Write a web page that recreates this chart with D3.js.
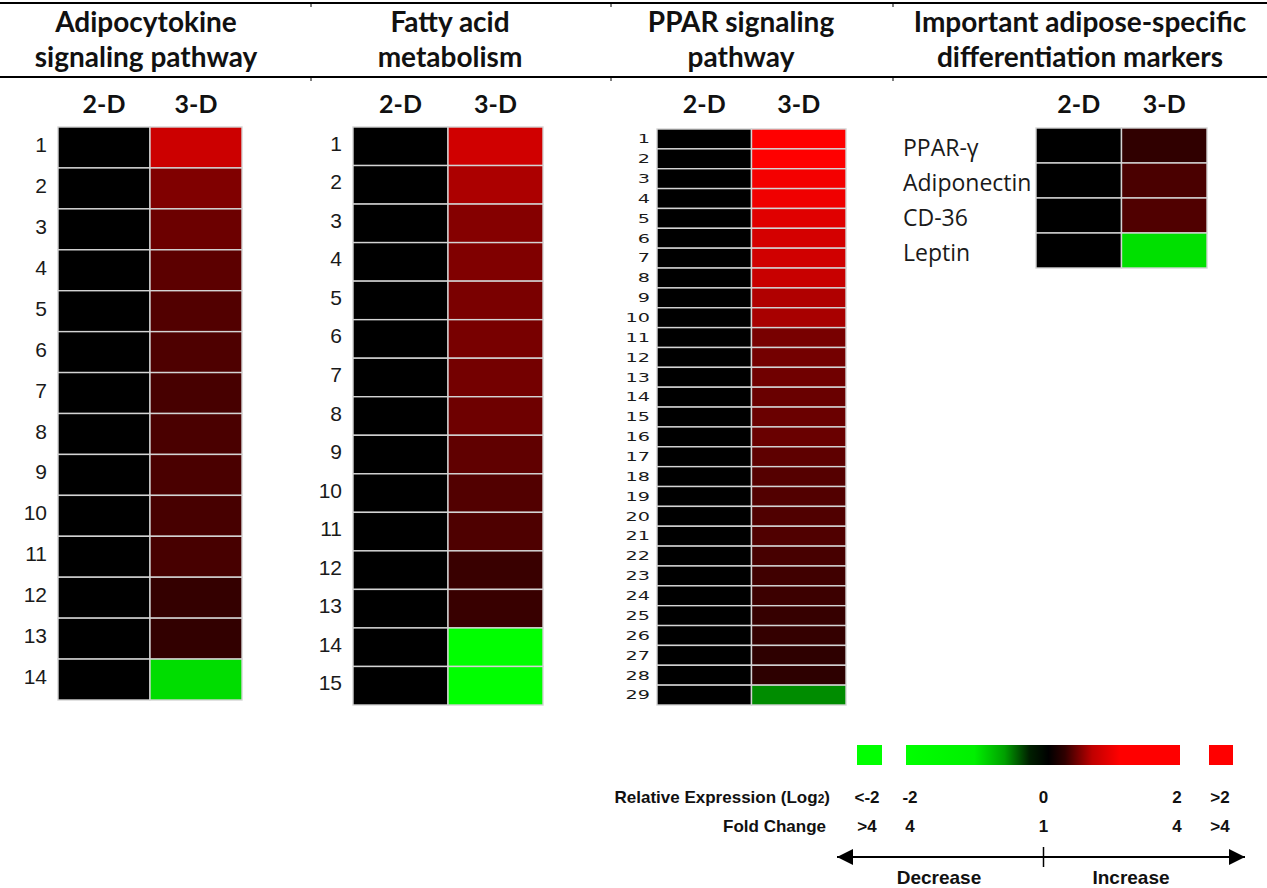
<!DOCTYPE html>
<html>
<head>
<meta charset="utf-8">
<script src="https://cdn.jsdelivr.net/npm/d3@7"></script>
<style>
  body { margin: 0; background: #fff; }
  svg { display: block; }
</style>
</head>
<body>
<svg id="chart" width="1267" height="888"></svg>
<script>
/* DATA: LOG2 RELATIVE EXPRESSION, 3-D VS 2-D (2-D IS THE REFERENCE = 0) */
var adipoLabels = ["1","2","3","4","5","6","7","8","9","10","11","12","13","14"];
var adipo2D = [0,0,0,0,0,0,0,0,0,0,0,0,0,0];
var adipo3D = [1.6,1.0,0.85,0.72,0.64,0.61,0.56,0.58,0.58,0.56,0.56,0.41,0.39,-1.73];

var fattyLabels = ["1","2","3","4","5","6","7","8","9","10","11","12","13","14","15"];
var fatty2D = [0,0,0,0,0,0,0,0,0,0,0,0,0,0,0];
var fatty3D = [1.63,1.35,1.04,1.0,0.96,0.94,0.91,0.86,0.75,0.64,0.61,0.45,0.44,-2,-2];

var pparLabels = ["1","2","3","4","5","6","7","8","9","10","11","12","13","14","15",
                  "16","17","18","19","20","21","22","23","24","25","26","27","28","29"];
var ppar2D = [0,0,0,0,0,0,0,0,0,0,0,0,0,0,0,0,0,0,0,0,0,0,0,0,0,0,0,0,0];
var ppar3D = [2.0,2.0,1.91,1.88,1.76,1.66,1.63,1.57,1.38,1.32,0.94,0.91,0.88,0.82,0.83,
              0.82,0.74,0.67,0.64,0.63,0.63,0.56,0.5,0.47,0.42,0.41,0.36,0.35,-1.1];

var markerLabels = ["PPAR-\u03b3","Adiponectin","CD-36","Leptin"];
var marker2D = [0,0,0,0];
var marker3D = [0.38,0.58,0.63,-1.76];

var conditions = ["2-D","3-D"];
var legendTicks = [-2, 0, 2];
var legendLog = ["-2","0","2"];
var legendFold = ["4","1","4"];

/* COLOUR SCALE: GREEN (-2) -> BLACK (0) -> RED (+2) */
var color = d3.scaleLinear()
    .domain([-2, 0, 2])
    .range(["#00ff00", "#000000", "#ff0000"])
    .clamp(true);

var svg = d3.select("#chart");

/* HEADER RULES */
svg.append("line").attr("x1", 0).attr("x2", 1267).attr("y1", 3).attr("y2", 3)
   .attr("stroke", "#000").attr("stroke-width", 2);
svg.append("line").attr("x1", 0).attr("x2", 1267).attr("y1", 77).attr("y2", 77)
   .attr("stroke", "#000").attr("stroke-width", 2);
[311, 611, 893].forEach(function(x) {
  svg.append("line").attr("x1", x).attr("x2", x).attr("y1", 3).attr("y2", 7).attr("stroke", "#000");
  svg.append("line").attr("x1", x).attr("x2", x).attr("y1", 77).attr("y2", 81).attr("stroke", "#000");
});

/* PANELS */
var panels = [
  { title: ["Adipocytokine", "signaling pathway"], cx: 146, labels: adipoLabels, v2: adipo2D, v3: adipo3D,
    x0: 58, x1: 242, top: 127, bottom: 700, labelX: 47, font: "Liberation Sans", size: 21, labelAnchor: "end", sx: 1, dy: -3 },
  { title: ["Fatty acid", "metabolism"], cx: 450, labels: fattyLabels, v2: fatty2D, v3: fatty3D,
    x0: 353, x1: 543, top: 127, bottom: 705, labelX: 342, font: "Liberation Sans", size: 21, labelAnchor: "end", sx: 1, dy: -3 },
  { title: ["PPAR signaling", "pathway"], cx: 741, labels: pparLabels, v2: ppar2D, v3: ppar3D,
    x0: 657, x1: 846, top: 129, bottom: 705, labelX: 650, font: "DejaVu Sans", size: 12, labelAnchor: "end", sx: 1.6, dy: 0 },
  { title: ["Important adipose-specific", "differentiation markers"], cx: 1080, labels: markerLabels, v2: marker2D, v3: marker3D,
    x0: 1036, x1: 1207, top: 128, bottom: 268, labelX: 903, font: "Open Sans", size: 23, labelAnchor: "start", sx: 1, dy: 2 }
];

panels.forEach(function(p) {
  var g = svg.append("g");

  /* TITLE */
  p.title.forEach(function(t, i) {
    g.append("text")
      .attr("x", p.cx).attr("y", 32 + i * 35)
      .attr("text-anchor", "middle")
      .attr("font-family", "Lato, 'Open Sans', sans-serif")
      .attr("font-weight", "bold")
      .attr("font-size", "28px")
      .attr("fill", "#111")
      .text(t);
  });

  var x = d3.scaleBand().domain(conditions).range([p.x0, p.x1]);
  var y = d3.scaleBand().domain(p.labels).range([p.top, p.bottom]);

  /* COLUMN HEADERS */
  g.selectAll(".colhead").data(conditions).enter().append("text")
    .attr("x", function(d) { return x(d) + x.bandwidth() / 2; })
    .attr("y", 113)
    .attr("text-anchor", "middle")
    .attr("font-family", "Lato, 'Open Sans', sans-serif")
    .attr("font-weight", "bold")
    .attr("font-size", "25px")
    .attr("fill", "#111")
    .text(function(d) { return d; });

  /* CELLS */
  var cells = [];
  p.labels.forEach(function(l, i) {
    cells.push({ row: l, col: "2-D", v: p.v2[i] });
    cells.push({ row: l, col: "3-D", v: p.v3[i] });
  });
  g.selectAll(".cell").data(cells).enter().append("rect")
    .attr("x", function(d) { return x(d.col); })
    .attr("y", function(d) { return y(d.row); })
    .attr("width", x.bandwidth())
    .attr("height", y.bandwidth())
    .attr("fill", function(d) { return color(d.v); })
    .attr("stroke", "#d4d4d4")
    .attr("stroke-width", 1.4);

  /* ROW LABELS */
  g.selectAll(".rowlab").data(p.labels).enter().append("text")
    .attr("transform", function(d) {
      return "translate(" + p.labelX + "," + (y(d) + y.bandwidth() / 2 + p.dy) + ") scale(" + p.sx + ",1)";
    })
    .attr("dy", "0.36em")
    .attr("text-anchor", p.labelAnchor)
    .attr("font-family", p.font)
    .attr("font-size", p.size + "px")
    .attr("fill", "#1a1a1a")
    .text(function(d) { return d; });
});

/* LEGEND */
var lx = d3.scaleLinear().domain([-2, 2]).range([910, 1177]);

var defs = svg.append("defs");
var grad = defs.append("linearGradient").attr("id", "lgGrad");
[[0, "#00ff00"], [0.25, "#00f000"], [0.36, "#00a000"], [0.45, "#002000"], [0.52, "#000000"],
 [0.58, "#300000"], [0.68, "#c00000"], [0.78, "#ff0000"], [1, "#ff0000"]].forEach(function(s) {
  grad.append("stop").attr("offset", s[0]).attr("stop-color", s[1]);
});

svg.append("rect").attr("x", 857).attr("y", 745).attr("width", 25).attr("height", 20).attr("fill", color(-3));
svg.append("rect").attr("x", 906).attr("y", 745).attr("width", 274).attr("height", 20).attr("fill", "url(#lgGrad)");
svg.append("rect").attr("x", 1209).attr("y", 745).attr("width", 24).attr("height", 20).attr("fill", color(3));

var lgFont = "'Liberation Sans', Arial, sans-serif";
function lgText(x, y, t, anchor) {
  return svg.append("text").attr("x", x).attr("y", y)
    .attr("text-anchor", anchor || "middle")
    .attr("font-family", lgFont).attr("font-weight", "bold").attr("font-size", "17px")
    .attr("fill", "#111").text(t);
}

var relT = lgText(830, 803, "Relative Expression (Log", "end");
relT.append("tspan").attr("font-size", "12px").text("2");
relT.append("tspan").text(")");
lgText(826, 832, "Fold Change", "end");

lgText(867, 803, "<-2");
lgText(1220, 803, ">2");
lgText(867, 832, ">4");
lgText(1220, 832, ">4");
legendTicks.forEach(function(t, i) {
  lgText(lx(t), 803, legendLog[i]);
  lgText(lx(t), 832, legendFold[i]);
});

/* ARROW */
defs.append("marker").attr("id", "arrowR").attr("viewBox", "0 0 10 10")
  .attr("refX", 10).attr("refY", 5).attr("markerWidth", 9).attr("markerHeight", 8)
  .attr("markerUnits", "strokeWidth").attr("orient", "auto")
  .append("path").attr("d", "M0,0L10,5L0,10Z").attr("fill", "#000");
defs.append("marker").attr("id", "arrowL").attr("viewBox", "0 0 10 10")
  .attr("refX", 10).attr("refY", 5).attr("markerWidth", 9).attr("markerHeight", 8)
  .attr("markerUnits", "strokeWidth").attr("orient", "auto-start-reverse")
  .append("path").attr("d", "M0,0L10,5L0,10Z").attr("fill", "#000");

svg.append("line").attr("x1", 837).attr("x2", 1245).attr("y1", 857).attr("y2", 857)
  .attr("stroke", "#000").attr("stroke-width", 2)
  .attr("marker-start", "url(#arrowL)").attr("marker-end", "url(#arrowR)");
svg.append("line").attr("x1", lx(0)).attr("x2", lx(0)).attr("y1", 847).attr("y2", 867)
  .attr("stroke", "#000").attr("stroke-width", 1.5);

svg.append("text").attr("x", 939).attr("y", 884).attr("text-anchor", "middle")
  .attr("font-family", lgFont).attr("font-weight", "bold").attr("font-size", "19px").attr("fill", "#111").text("Decrease");
svg.append("text").attr("x", 1131).attr("y", 884).attr("text-anchor", "middle")
  .attr("font-family", lgFont).attr("font-weight", "bold").attr("font-size", "19px").attr("fill", "#111").text("Increase");
</script>
</body>
</html>
